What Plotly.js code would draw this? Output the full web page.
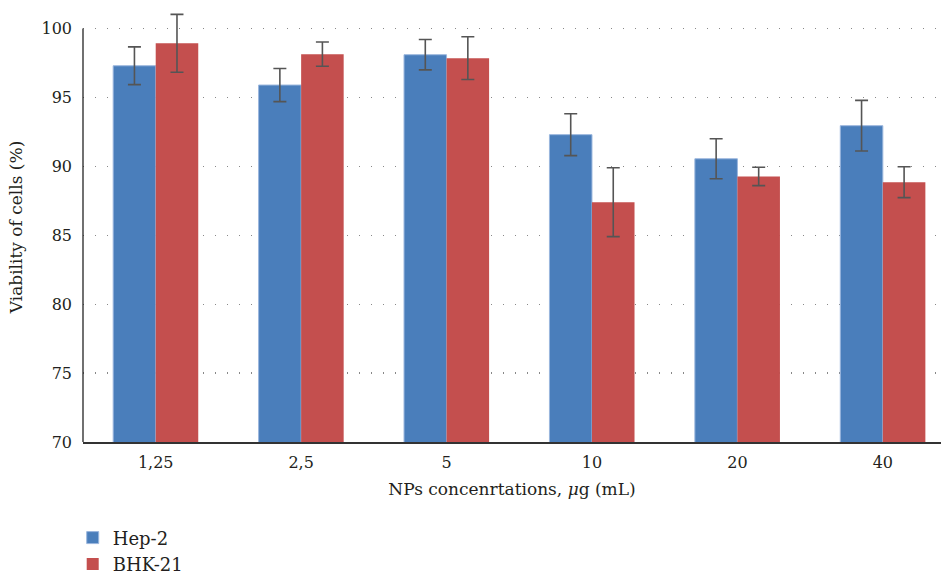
<!DOCTYPE html>
<html>
<head>
<meta charset="utf-8">
<script src="https://cdn.plot.ly/plotly-3.0.1.min.js"></script>
<style>html,body{margin:0;padding:0;background:#fff;}#chart{width:941px;height:576px;}</style>
</head>
<body>
<div id="chart"></div>
<script>
var categories = ["1,25", "2,5", "5", "10", "20", "40"];
var hep2 = [97.3, 95.9, 98.1, 92.3, 90.55, 92.95];
var hep2Err = [1.37, 1.2, 1.1, 1.52, 1.45, 1.84];
var bhk21 = [98.93, 98.14, 97.85, 87.4, 89.27, 88.85];
var bhk21Err = [2.1, 0.88, 1.55, 2.5, 0.67, 1.12];
var yTicks = [70, 75, 80, 85, 90, 95, 100];

var fontFam = "DejaVu Serif";
var txtCol = "#231f20";

var errStyle = {type: "data", visible: true, color: "#555555", thickness: 1.6, width: 6.5};

var traces = [
  {
    type: "bar", name: "Hep-2", x: categories, y: hep2,
    error_y: Object.assign({array: hep2Err}, errStyle),
    marker: {color: "#4a7ebb", line: {color: "#9ab6dd", width: 1}},
    cliponaxis: false
  },
  {
    type: "bar", name: "BHK-21", x: categories, y: bhk21,
    error_y: Object.assign({array: bhk21Err}, errStyle),
    marker: {color: "#c44f4e", line: {width: 0}},
    cliponaxis: false
  }
];

var layout = {
  width: 941, height: 576,
  margin: {l: 83, r: 0, t: 11.75, b: 134, autoexpand: false},
  paper_bgcolor: "#fff", plot_bgcolor: "#fff",
  font: {family: fontFam, size: 17, color: txtCol},
  barmode: "group",
  bargap: 0.415, bargroupgap: 0,
  showlegend: true,
  legend: {
    x: -0.012, xanchor: "left", y: -0.18, yanchor: "top",
    font: {family: fontFam, size: 18, color: txtCol},
    tracegroupgap: 0, itemwidth: 30, bgcolor: "rgba(0,0,0,0)"
  },
  xaxis: {
    type: "category",
    range: [-0.5, 5.4],
    showgrid: false, zeroline: false,
    showline: true, linecolor: "#333333", linewidth: 1.5,
    ticks: "", ticklabelstandoff: 5,
    tickfont: {family: fontFam, size: 16, color: txtCol},
    title: {text: "NPs concenrtations, <i>μ</i>g (mL)", font: {family: fontFam, size: 17, color: txtCol}, standoff: 12}
  },
  yaxis: {
    range: [70, 101.2],
    tickvals: yTicks,
    showgrid: true, gridcolor: "#888888", gridwidth: 1.3, griddash: "1.3px,10.7px",
    zeroline: false,
    showline: false,
    ticks: "", ticklabelstandoff: 10,
    tickfont: {family: fontFam, size: 16, color: txtCol},
    title: {text: "Viability of cells (%)", font: {family: fontFam, size: 17, color: txtCol}, standoff: 14}
  },
  shapes: [
    {type: "line", xref: "paper", yref: "y", x0: 0, x1: 0, y0: yTicks[0], y1: yTicks[yTicks.length - 1],
     line: {color: "#111111", width: 1.2}, layer: "above"}
  ]
};

Plotly.newPlot("chart", traces, layout, {staticPlot: true, displayModeBar: false});
</script>
</body>
</html>
